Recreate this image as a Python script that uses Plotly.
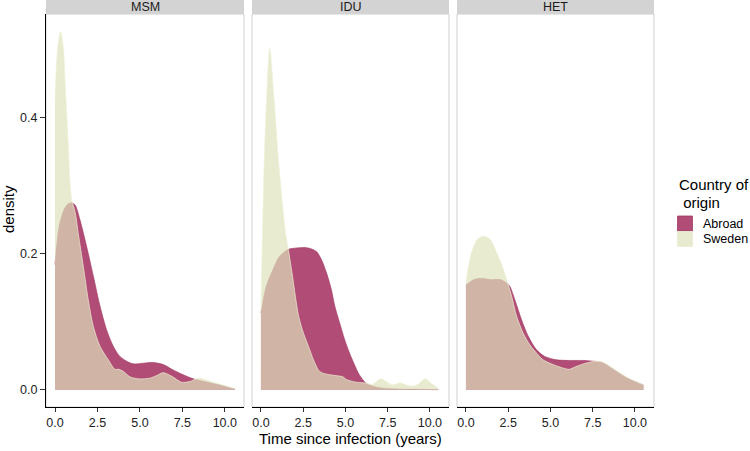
import plotly.graph_objects as go

W, H = 750, 451

groups = ["MSM", "IDU", "HET"]
origins = ["Abroad", "Sweden"]

# ---- data (time since infection, density) ----
msm_sweden_x = [0, 0.05, 0.16, 0.32, 0.49, 0.59, 0.69, 0.79, 0.88, 0.98, 1.18, 1.37, 1.67, 1.96,
                2.26, 2.65, 3.14, 3.53, 3.75, 4.02, 4.41, 4.9, 5.59, 6.0, 6.37, 6.86, 7.45, 7.94,
                8.43, 9.32, 10.0, 10.59]
msm_sweden_y = [0.43, 0.46, 0.504, 0.527, 0.504, 0.455, 0.406, 0.357, 0.308, 0.280, 0.262, 0.230,
                0.181, 0.132, 0.093, 0.064, 0.044, 0.030, 0.030, 0.027, 0.019, 0.016, 0.017, 0.021,
                0.025, 0.020, 0.011, 0.012, 0.017, 0.011, 0.006, 0.001]
msm_abroad_x = [0, 0.24, 0.53, 0.75, 0.95, 1.18, 1.47, 1.86, 2.26, 2.65, 3.04, 3.43, 3.82, 4.22,
                4.61, 5.2, 5.79, 6.37, 6.96, 7.55, 8.14, 8.6, 9.3, 10.0, 10.59]
msm_abroad_y = [0.184, 0.24, 0.265, 0.273, 0.275, 0.272, 0.25, 0.211, 0.167, 0.123, 0.088, 0.064,
                0.049, 0.042, 0.038, 0.039, 0.040, 0.037, 0.029, 0.022, 0.016, 0.013, 0.009, 0.005,
                0.001]

idu_sweden_x = [0, 0.19, 0.33, 0.52, 0.78, 1.07, 1.46, 1.61, 1.84, 2.04, 2.23, 2.52, 2.81, 3.11,
                3.40, 3.59, 4.08, 4.66, 4.85, 5.05, 5.63, 6.21, 6.6, 7.09, 7.4, 7.77, 8.25, 8.6,
                8.93, 9.3, 9.71, 10.1, 10.5]
idu_sweden_y = [0.12, 0.33, 0.426, 0.503, 0.426, 0.328, 0.23, 0.208, 0.172, 0.137, 0.108, 0.083,
                0.064, 0.044, 0.029, 0.025, 0.022, 0.020, 0.019, 0.015, 0.011, 0.0098, 0.008,
                0.016, 0.012, 0.007, 0.010, 0.007, 0.005, 0.008, 0.016, 0.009, 0.002]
idu_abroad_x = [0, 0.31, 0.70, 1.09, 1.57, 1.9, 2.33, 2.7, 3.01, 3.30, 3.59, 3.88, 4.17, 4.37,
                4.66, 4.95, 5.24, 5.53, 5.82, 6.21, 6.5, 7.0, 8.0, 9.0, 10.5]
idu_abroad_y = [0.113, 0.152, 0.176, 0.196, 0.206, 0.208, 0.209, 0.209, 0.207, 0.203, 0.191,
                0.172, 0.147, 0.123, 0.098, 0.074, 0.054, 0.037, 0.022, 0.0098, 0.006, 0.003,
                0.001, 0.0005, 0.0]

het_sweden_x = [0, 0.27, 0.66, 1.05, 1.44, 1.83, 2.22, 2.51, 2.71, 3.0, 3.39, 3.78, 4.17, 4.56,
                5.15, 5.73, 6.12, 6.51, 7.09, 7.68, 8.07, 8.85, 9.63, 10.5]
het_sweden_y = [0.157, 0.196, 0.221, 0.226, 0.221, 0.201, 0.177, 0.154, 0.137, 0.108, 0.083,
                0.066, 0.054, 0.044, 0.037, 0.032, 0.030, 0.034, 0.039, 0.042, 0.041, 0.029,
                0.017, 0.0075]
het_abroad_x = [0, 0.47, 0.86, 1.44, 2.02, 2.41, 2.6, 2.9, 3.29, 3.68, 4.17, 4.66, 5.34, 6.12,
                6.9, 7.5, 8.07, 8.85, 9.63, 10.5]
het_abroad_y = [0.154, 0.162, 0.164, 0.162, 0.162, 0.157, 0.152, 0.132, 0.103, 0.079, 0.059,
                0.049, 0.044, 0.043, 0.043, 0.042, 0.040, 0.028, 0.016, 0.007]

x_tick_vals = [0, 2.5, 5, 7.5, 10]
x_tick_text = ["0.0", "2.5", "5.0", "7.5", "10.0"]
y_tick_vals = [0, 0.2, 0.4]
y_tick_text = ["0.0", "0.2", "0.4"]

series = {
    "MSM": {"Abroad": (msm_abroad_x, msm_abroad_y), "Sweden": (msm_sweden_x, msm_sweden_y)},
    "IDU": {"Abroad": (idu_abroad_x, idu_abroad_y), "Sweden": (idu_sweden_x, idu_sweden_y)},
    "HET": {"Abroad": (het_abroad_x, het_abroad_y), "Sweden": (het_sweden_x, het_sweden_y)},
}

# ---- styling ----
fill_col = {"Abroad": "rgb(176,76,117)", "Sweden": "rgba(222,226,188,0.70)"}
line_col = {"Abroad": "rgba(160,55,98,0.9)", "Sweden": "rgba(238,240,214,0.95)"}
font = "Liberation Sans, Arial, sans-serif"

def px_x(p):
    return p / W

def px_y(p):
    return 1 - p / H

panel_px = [(46, 244), (252, 449), (457, 654)]
y_dom = [px_y(407), px_y(14)]
x_range = [-0.53, 11.13]
y_range = [-0.0255, 0.553]

fig = go.Figure()
layout = dict(
    width=W, height=H, autosize=False,
    margin=dict(l=0, r=0, t=0, b=0),
    paper_bgcolor="white", plot_bgcolor="white",
    showlegend=False,
    font=dict(family=font, color="#1a1a1a"),
)
shapes, annotations = [], []

for i, g in enumerate(groups):
    sfx = "" if i == 0 else str(i + 1)
    xa, ya = "x" + sfx, "y" + sfx
    for o in origins:
        xs, ys = series[g][o]
        fig.add_trace(go.Scatter(
            x=xs, y=ys, xaxis=xa, yaxis=ya, mode="lines",
            line=dict(color=line_col[o], width=0.7, shape="spline", smoothing=0.8),
            fill="tozeroy", fillcolor=fill_col[o], name=o, hoverinfo="x+y+name",
        ))
    x0, x1 = panel_px[i]
    layout["xaxis" + sfx] = dict(
        domain=[px_x(x0), px_x(x1)], range=x_range, anchor=ya,
        tickvals=x_tick_vals, ticktext=x_tick_text, ticks="outside", ticklen=4,
        tickcolor="#333", tickwidth=1, showline=True, linecolor="black", linewidth=1,
        showgrid=False, zeroline=False, tickfont=dict(size=12.5, color="#222"),
        fixedrange=True,
    )
    layout["yaxis" + sfx] = dict(
        domain=y_dom, range=y_range, anchor=xa,
        tickvals=y_tick_vals, ticktext=y_tick_text if i == 0 else None,
        showticklabels=(i == 0), ticks="outside" if i == 0 else "", ticklen=5,
        tickcolor="#333", tickwidth=1, showline=(i == 0), linecolor="black", linewidth=1,
        showgrid=False, zeroline=False, tickfont=dict(size=12.5, color="#222"),
        fixedrange=True,
    )
    # panel border (light grey)
    shapes.append(dict(type="rect", xref=xa + " domain", yref=ya + " domain",
                       x0=0, x1=1, y0=0, y1=1, line=dict(color="#d0d0d0", width=1),
                       fillcolor="rgba(0,0,0,0)", layer="below"))
    # strip
    shapes.append(dict(type="rect", xref="paper", yref="paper",
                       x0=px_x(x0), x1=px_x(x1), y0=px_y(14), y1=px_y(0),
                       line=dict(width=0), fillcolor="#d3d3d3"))
    annotations.append(dict(text=g, xref="paper", yref="paper",
                            x=px_x((x0 + x1) / 2), y=px_y(7.5), showarrow=False,
                            xanchor="center", yanchor="middle",
                            font=dict(size=12.5, color="#1a1a1a")))

# axis titles
annotations.append(dict(text="Time since infection (years)", xref="paper", yref="paper",
                        x=px_x(350), y=px_y(438), showarrow=False, xanchor="center",
                        yanchor="middle", font=dict(size=15, color="black")))
annotations.append(dict(text="density", xref="paper", yref="paper", textangle=-90,
                        x=px_x(9), y=px_y(209), showarrow=False, xanchor="center",
                        yanchor="middle", font=dict(size=15, color="black")))

# legend (drawn)
annotations.append(dict(text="Country of", xref="paper", yref="paper", x=px_x(677),
                        y=px_y(185), showarrow=False, xanchor="left", yanchor="middle",
                        font=dict(size=15, color="black")))
annotations.append(dict(text=" origin", xref="paper", yref="paper", x=px_x(677),
                        y=px_y(202), showarrow=False, xanchor="left", yanchor="middle",
                        font=dict(size=15, color="black")))
key_col = {"Abroad": "rgb(176,76,117)", "Sweden": "rgb(232,235,208)"}
key_line = {"Abroad": "rgb(160,60,100)", "Sweden": "rgb(232,235,208)"}
for k, o in enumerate(origins):
    top = 216 + k * 15.5
    shapes.append(dict(type="rect", xref="paper", yref="paper",
                       x0=px_x(677.5), x1=px_x(692.5), y0=px_y(top + 15), y1=px_y(top),
                       line=dict(color=key_line[o], width=0.8), fillcolor=key_col[o]))
    annotations.append(dict(text=o, xref="paper", yref="paper", x=px_x(701),
                            y=px_y(top + 7.5), showarrow=False, xanchor="left",
                            yanchor="middle", font=dict(size=12.5, color="black")))

layout["shapes"] = shapes
layout["annotations"] = annotations
fig.update_layout(**layout)

fig.write_html("out.html", config={"displayModeBar": False},
               post_script="document.body.style.margin='0';")
